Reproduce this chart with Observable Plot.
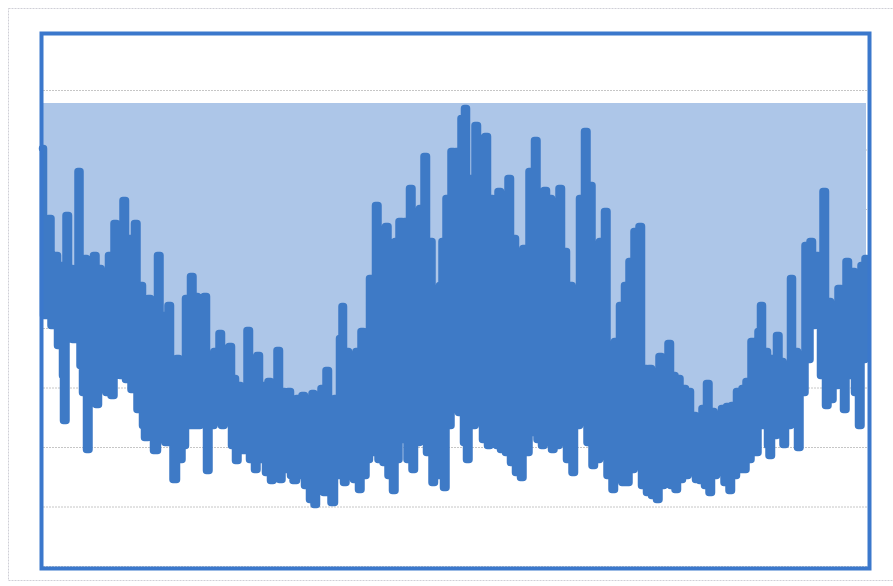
<!DOCTYPE html>
<html>
<head>
<meta charset="utf-8">
<script src="https://cdn.jsdelivr.net/npm/d3@7"></script>
<script src="https://cdn.jsdelivr.net/npm/@observablehq/plot@0.6"></script>
<style>
  html, body { margin: 0; padding: 0; background: #ffffff; overflow: hidden; }
  #chart { width: 893px; height: 586px; }
</style>
</head>
<body>
<div id="chart"></div>
<script>
// Upper readings of the series: [position, level]
const peaks = [
  [0,418],[7,348],[15,311],[20,301],[25,351],[30,298],[37,395],[43,308],[48,255],[52,311],
  [57,298],[62,255],[67,311],[73,343],[81,366],[87,328],[94,343],[100,281],[107,268],[117,311],
  [122,251],[128,261],[135,208],[141,205],[145,268],[150,290],[155,270],[163,270],[168,188],[173,215],
  [178,233],[183,218],[188,220],[193,188],[198,181],[206,236],[211,201],[216,211],[223,181],[228,185],
  [236,216],[241,175],[248,175],[255,168],[261,171],[266,151],[271,173],[276,135],[281,178],[286,196],
  [293,168],[298,228],[301,260],[306,215],[311,170],[316,215],[321,235],[328,288],[335,361],[340,268],
  [345,340],[350,255],[355,325],[358,345],[363,345],[368,378],[373,341],[378,358],[383,410],[388,325],
  [393,235],[398,281],[401,325],[406,368],[411,415],[416,415],[421,448],[423,458],[428,388],[435,441],
  [440,428],[445,430],[450,368],[453,335],[456,375],[461,321],[466,388],[471,328],[476,258],[481,318],
  [488,395],[493,426],[498,361],[503,376],[508,368],[513,335],[518,378],[523,315],[528,281],[533,251],
  [538,368],[543,435],[548,381],[553,285],[558,325],[563,355],[568,201],[573,225],[578,261],[583,281],
  [588,305],[593,335],[598,340],[603,198],[608,198],[613,155],[618,210],[623,201],[626,223],[631,191],
  [636,188],[641,178],[646,175],[651,151],[656,148],[661,158],[665,183],[670,155],[675,148],[680,158],
  [685,160],[690,161],[695,175],[701,178],[706,185],[711,225],[716,235],[720,261],[725,215],[730,208],
  [735,231],[740,205],[745,185],[750,288],[755,215],[760,201],[765,321],[770,325],[775,311],[781,375],
  [786,265],[791,261],[796,278],[801,268],[806,305],[811,295],[816,261],[821,301],[824,308]
];

// Lower readings of the series: [position, level]
const troughs = [
  [2,251],[5,257],[10,241],[15,221],[20,191],[22,146],[27,241],[30,227],[34,227],[38,201],
  [42,174],[45,117],[50,164],[55,162],[60,181],[65,174],[70,171],[75,197],[80,191],[85,187],
  [90,177],[95,157],[100,141],[104,129],[109,154],[113,116],[118,141],[123,124],[128,141],[133,87],
  [138,107],[141,121],[146,141],[151,141],[155,141],[160,157],[165,96],[170,141],[175,147],[180,141],
  [185,144],[190,121],[193,106],[198,121],[203,116],[208,107],[213,97],[218,107],[223,94],[228,86],
  [233,101],[238,87],[243,97],[248,91],[253,86],[258,91],[263,81],[268,67],[272,62],[276,81],
  [281,74],[286,81],[291,64],[296,91],[301,84],[306,94],[311,87],[316,77],[321,91],[326,107],
  [331,114],[336,107],[341,104],[346,91],[350,76],[355,107],[361,127],[366,107],[371,97],[376,124],
  [380,154],[385,114],[391,84],[396,91],[401,79],[406,141],[411,161],[416,154],[421,124],[425,107],
  [430,141],[435,144],[440,127],[445,121],[450,124],[455,121],[460,117],[465,114],[470,104],[475,94],
  [480,89],[485,114],[491,134],[496,127],[500,121],[505,127],[510,117],[515,121],[520,124],[525,107],
  [531,94],[536,141],[541,161],[546,124],[551,101],[556,107],[561,124],[566,91],[571,77],[576,91],
  [581,84],[585,84],[590,97],[595,107],[600,81],[605,74],[610,71],[615,67],[620,81],[625,87],
  [630,81],[634,77],[639,87],[645,91],[650,94],[655,87],[658,86],[663,81],[668,74],[673,91],
  [678,97],[683,84],[688,76],[693,91],[698,97],[701,97],[706,107],[711,114],[715,114],[720,141],
  [725,121],[728,111],[733,131],[738,141],[741,122],[746,141],[750,174],[755,119],[760,174],[765,207],
  [770,241],[776,251],[780,191],[785,161],[790,167],[795,181],[801,157],[806,191],[808,201],[813,174],
  [816,141],[821,207],[824,227]
];

const bandTop = 463;                 // upper limit of the shaded band
const gridLevels = [0, 59.5, 119, 178.5, 238, 297.5, 357, 416.5, 476];

const series = peaks.map(([t, v]) => ({t, v}))
  .concat(troughs.map(([t, v]) => ({t, v})))
  .sort((a, b) => a.t - b.t);

const chart = Plot.plot({
  width: 893,
  height: 586,
  marginLeft: 42,
  marginRight: 27,
  marginTop: 90,
  marginBottom: 20,
  x: {domain: [0, 824], axis: null},
  y: {domain: [0, 476], axis: null},
  style: {background: "#ffffff", overflow: "visible"},
  marks: [
    Plot.frame({stroke: "#cfcfd6", strokeWidth: 1, strokeDasharray: "2 1",
      insetLeft: -34, insetTop: -82, insetBottom: -14, insetRight: -60}),
    Plot.ruleY(gridLevels, {stroke: "#c6c6c6", strokeWidth: 1, strokeDasharray: "2 1", insetLeft: -2, insetRight: -3}),
    Plot.areaY(series, {x: "t", y1: "v", y2: bandTop, fill: "#adc6e8", curve: "step"}),
    Plot.line(series, {x: "t", y: "v", stroke: "#3e7ac6", strokeWidth: 7.5,
      curve: "step", strokeLinejoin: "round", strokeLinecap: "round"}),
    Plot.frame({stroke: "#3b78cc", strokeWidth: 4,
      insetLeft: -1, insetTop: -57, insetRight: -3, insetBottom: -2})
  ]
});
document.getElementById("chart").appendChild(chart);
</script>
</body>
</html>
